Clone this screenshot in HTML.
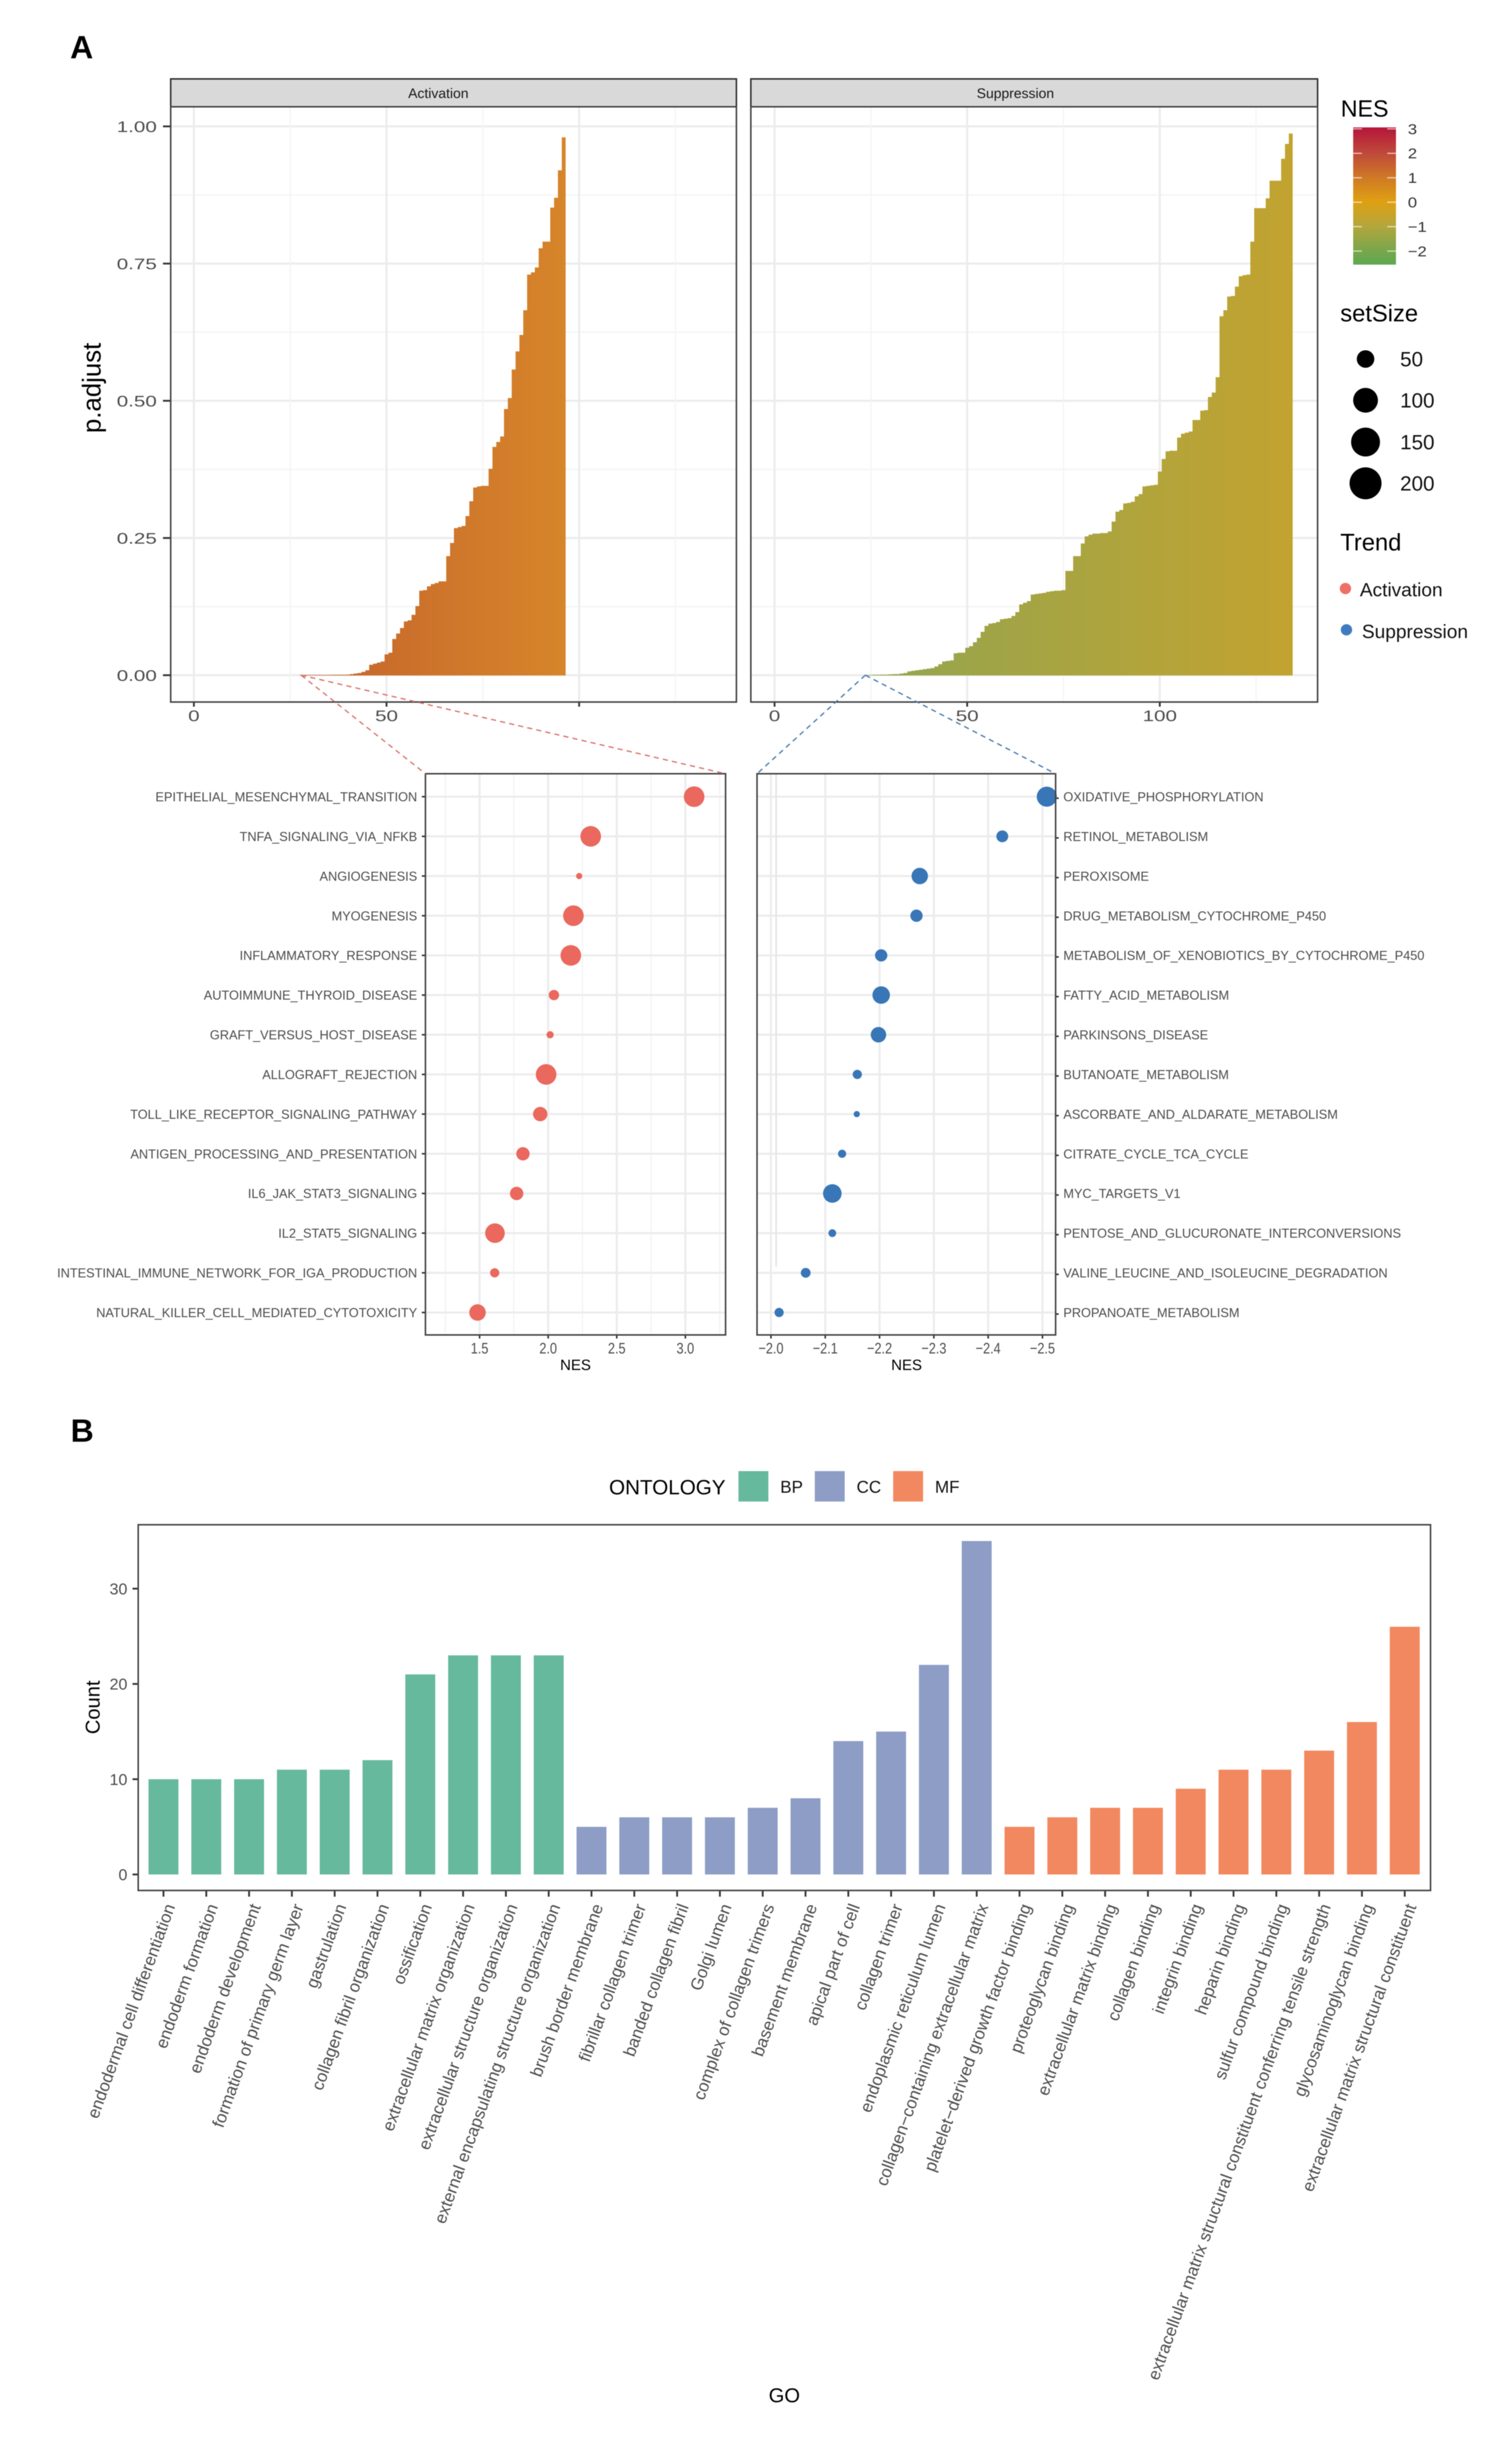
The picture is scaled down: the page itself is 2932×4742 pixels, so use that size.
<!DOCTYPE html>
<html lang="en">
<head>
<meta charset="utf-8">
<title>Enrichment figure</title>
<style>
html,body{margin:0;padding:0;background:#fff;}
svg{display:block;font-family:"Liberation Sans",sans-serif;filter:blur(0.7px);}
</style>
</head>
<body>
<svg id="fig" xmlns="http://www.w3.org/2000/svg" width="2932" height="4742" viewBox="0 0 2932 4742">
  <defs>
    <linearGradient id="nesGrad" x1="0" y1="0" x2="0" y2="1">
      <stop offset="0" stop-color="#b5153a"/>
      <stop offset="0.19" stop-color="#bf4a3a"/>
      <stop offset="0.37" stop-color="#cf7a24"/>
      <stop offset="0.54" stop-color="#dfa012"/>
      <stop offset="0.72" stop-color="#b3a63c"/>
      <stop offset="0.90" stop-color="#78a64c"/>
      <stop offset="1" stop-color="#5da84f"/>
    </linearGradient>
  </defs>
  <rect x="0" y="0" width="2932" height="4742" fill="#fff"/>
  <text x="136" y="113" font-size="62" font-weight="700" fill="#000">A</text>
  <text x="137" y="2795" font-size="62" font-weight="700" fill="#000">B</text>

  <g id="gActivation"></g>
  <g id="gSuppression"></g>

  <rect x="331" y="153" width="1097" height="54" fill="#d9d9d9" stroke="#333" stroke-width="3"/>
  <text x="850" y="190" font-size="27" text-anchor="middle" fill="#1a1a1a">Activation</text>
  <rect x="331" y="207" width="1097" height="1154" fill="none" stroke="#444" stroke-width="3"/>
  <rect x="1456" y="153" width="1099" height="54" fill="#d9d9d9" stroke="#333" stroke-width="3"/>
  <text x="1969" y="190" font-size="27" text-anchor="middle" fill="#1a1a1a">Suppression</text>
  <rect x="1456" y="207" width="1099" height="1154" fill="none" stroke="#444" stroke-width="3"/>
  <text transform="translate(195,752) rotate(-90)" font-size="50" text-anchor="middle" fill="#000">p.adjust</text>

  <g id="gDotA"></g>
  <g id="gDotS"></g>
  <rect x="825" y="1500" width="582" height="1088" fill="none" stroke="#444" stroke-width="3"/>
  <rect x="1468" y="1500" width="579" height="1088" fill="none" stroke="#444" stroke-width="3"/>
  <text x="1116" y="2656" font-size="29" text-anchor="middle" fill="#000">NES</text>
  <text x="1758" y="2656" font-size="29" text-anchor="middle" fill="#000">NES</text>

  <g fill="none" stroke-width="2.5" stroke-dasharray="10 8">
    <line x1="584" y1="1309" x2="825" y2="1500" stroke="#d9746c"/>
    <line x1="584" y1="1309" x2="1407" y2="1500" stroke="#d9746c"/>
    <line x1="1678" y1="1309" x2="1468" y2="1500" stroke="#4a7cae"/>
    <line x1="1678" y1="1309" x2="2047" y2="1500" stroke="#4a7cae"/>
  </g>

  <g>
    <text x="2600" y="226" font-size="45" fill="#000">NES</text>
    <rect x="2624" y="247" width="83" height="266" fill="url(#nesGrad)"/>
    <g id="gNesTicks"></g>
  </g>
  <g>
    <text x="2599" y="623" font-size="46" fill="#000">setSize</text>
    <circle cx="2648" cy="696" r="17" fill="#000"/>
    <circle cx="2648" cy="776" r="24" fill="#000"/>
    <circle cx="2648" cy="857" r="28" fill="#000"/>
    <circle cx="2648" cy="937" r="31" fill="#000"/>
    <text x="2715" y="710" font-size="40" fill="#111">50</text>
    <text x="2715" y="790" font-size="40" fill="#111">100</text>
    <text x="2715" y="871" font-size="40" fill="#111">150</text>
    <text x="2715" y="951" font-size="40" fill="#111">200</text>
  </g>
  <g>
    <text x="2599" y="1067" font-size="46" fill="#000">Trend</text>
    <circle cx="2609" cy="1141" r="11" fill="#ee6f66"/>
    <circle cx="2611" cy="1221" r="11" fill="#3f7cbf"/>
    <text x="2637" y="1156" font-size="37" fill="#111">Activation</text>
    <text x="2641" y="1237" font-size="37" fill="#111">Suppression</text>
  </g>

  <g>
    <text x="1181" y="2897" font-size="40" fill="#000">ONTOLOGY</text>
    <rect x="1432" y="2852" width="58" height="59" fill="#66b99d"/>
    <text x="1513" y="2894" font-size="33" fill="#111">BP</text>
    <rect x="1580" y="2852" width="58" height="59" fill="#8d9dc6"/>
    <text x="1661" y="2894" font-size="33" fill="#111">CC</text>
    <rect x="1732" y="2852" width="58" height="59" fill="#f2885f"/>
    <text x="1813" y="2894" font-size="33" fill="#111">MF</text>
  </g>
  <g id="gGo"></g>
  <rect x="268" y="2956" width="2506" height="709" fill="none" stroke="#444" stroke-width="3"/>
  <text transform="translate(193,3310) rotate(-90)" font-size="39" text-anchor="middle" fill="#000">Count</text>
  <text x="1521" y="4657" font-size="39" text-anchor="middle" fill="#000">GO</text>
</svg>

<script>
// ---- Panel A top: ranked p.adjust values (ascending, last value sits at the final rank) ----
const activationLastRank = 96;
const activationPadj = [
  0.0005,0.0005,0.0005,0.0005,0.0005,0.0005,0.0005,0.0005,0.0007,0.0007,0.0008,0.0008,
  0.001,0.002,0.003,0.004,0.006,0.009,0.019,0.021,0.023,0.025,0.038,0.041,
  0.066,0.076,0.086,0.098,0.10,0.11,0.126,0.154,0.155,0.162,0.166,0.168,
  0.171,0.171,0.217,0.241,0.268,0.27,0.272,0.29,0.317,0.342,0.344,0.345,
  0.345,0.376,0.416,0.425,0.435,0.485,0.505,0.557,0.59,0.62,0.665,0.73,
  0.734,0.743,0.778,0.79,0.79,0.852,0.87,0.92,0.98
];
const suppressionLastRank = 134;
const suppressionPadj = [
  0.0005,0.0005,0.0008,0.0008,0.001,0.001,0.0015,0.002,0.002,0.003,
  0.004,0.007,0.008,0.009,0.010,0.011,0.012,0.013,0.016,0.020,
  0.025,0.026,0.027,0.040,0.041,0.041,0.050,0.053,0.060,0.068,
  0.079,0.09,0.094,0.095,0.097,0.102,0.103,0.104,0.108,0.115,
  0.129,0.132,0.135,0.147,0.148,0.149,0.150,0.152,0.153,0.154,
  0.154,0.155,0.190,0.190,0.217,0.217,0.240,0.253,0.256,0.258,
  0.258,0.259,0.259,0.262,0.280,0.298,0.301,0.313,0.314,0.316,
  0.326,0.330,0.344,0.345,0.346,0.347,0.371,0.394,0.408,0.409,
  0.409,0.433,0.44,0.442,0.444,0.465,0.465,0.482,0.483,0.507,
  0.515,0.543,0.654,0.665,0.69,0.691,0.708,0.727,0.729,0.73,
  0.79,0.851,0.851,0.851,0.869,0.901,0.901,0.901,0.941,0.968,0.987
];
const padjTicks = [0, 0.25, 0.5, 0.75, 1];
const padjTickLabels = ['0.00','0.25','0.50','0.75','1.00'];
const rankTicks = [0, 50, 100];
const activationRankLabels = ['0','50',''];
const suppressionRankLabels = ['0','50','100'];

// ---- Panel A bottom: dot plots ----
const activationTerms = ['EPITHELIAL_MESENCHYMAL_TRANSITION','TNFA_SIGNALING_VIA_NFKB','ANGIOGENESIS','MYOGENESIS','INFLAMMATORY_RESPONSE','AUTOIMMUNE_THYROID_DISEASE','GRAFT_VERSUS_HOST_DISEASE','ALLOGRAFT_REJECTION','TOLL_LIKE_RECEPTOR_SIGNALING_PATHWAY','ANTIGEN_PROCESSING_AND_PRESENTATION','IL6_JAK_STAT3_SIGNALING','IL2_STAT5_SIGNALING','INTESTINAL_IMMUNE_NETWORK_FOR_IGA_PRODUCTION','NATURAL_KILLER_CELL_MEDIATED_CYTOTOXICITY'];
const activationNES = [3.064,2.31,2.226,2.184,2.165,2.042,2.014,1.985,1.942,1.816,1.77,1.612,1.61,1.485];
const activationSetSize = [190,190,17,190,190,48,23,190,93,80,80,172,38,122];
const activationNesTicks = ['1.5','2.0','2.5','3.0'];
const activationNesMinor = [1.25,1.75,2.25,2.75,3.25];
const suppressionTerms = ['OXIDATIVE_PHOSPHORYLATION','RETINOL_METABOLISM','PEROXISOME','DRUG_METABOLISM_CYTOCHROME_P450','METABOLISM_OF_XENOBIOTICS_BY_CYTOCHROME_P450','FATTY_ACID_METABOLISM','PARKINSONS_DISEASE','BUTANOATE_METABOLISM','ASCORBATE_AND_ALDARATE_METABOLISM','CITRATE_CYCLE_TCA_CYCLE','MYC_TARGETS_V1','PENTOSE_AND_GLUCURONATE_INTERCONVERSIONS','VALINE_LEUCINE_AND_ISOLEUCINE_DEGRADATION','PROPANOATE_METABOLISM'];
const suppressionNES = [-2.508,-2.426,-2.274,-2.268,-2.203,-2.203,-2.198,-2.159,-2.158,-2.131,-2.113,-2.113,-2.064,-2.015];
const suppressionSetSize = [181,63,121,68,68,137,107,38,17,30,154,27,43,38];
const suppressionNesTicks = ['-2.0','-2.1','-2.2','-2.3','-2.4','-2.5'];

// ---- Panel B: GO bars ----
const goTerms = ['endodermal cell differentiation','endoderm formation','endoderm development','formation of primary germ layer','gastrulation','collagen fibril organization','ossification','extracellular matrix organization','extracellular structure organization','external encapsulating structure organization','brush border membrane','fibrillar collagen trimer','banded collagen fibril','Golgi lumen','complex of collagen trimers','basement membrane','apical part of cell','collagen trimer','endoplasmic reticulum lumen','collagen\u2212containing extracellular matrix','platelet\u2212derived growth factor binding','proteoglycan binding','extracellular matrix binding','collagen binding','integrin binding','heparin binding','sulfur compound binding','extracellular matrix structural constituent conferring tensile strength','glycosaminoglycan binding','extracellular matrix structural constituent'];
const goCounts = [10,10,10,11,11,12,21,23,23,23,5,6,6,6,7,8,14,15,22,35,5,6,7,7,9,11,11,13,16,26];
const goOntology = ['BP','BP','BP','BP','BP','BP','BP','BP','BP','BP','CC','CC','CC','CC','CC','CC','CC','CC','CC','CC','MF','MF','MF','MF','MF','MF','MF','MF','MF','MF'];
const countTicks = [0,10,20,30];

// ---- NES legend ----
const nesLegendTicks = [3,2,1,0,-1,-2];

// ---- Axis functions ----
const yPadj = p => 1309 - 1064 * p;
const xActRank = r => 376 + 7.47 * r;
const xSupRank = r => 1502 + 7.47 * r;
const yRow = i => 1544.5 + i * (1000 / 13);
const xActNes = v => 930 + 266 * (v - 1.5);
const xSupNes = v => 1495 + 1053 * (-2 - v);
const yCount = c => 3634 - 18.47 * c;
const xGo = i => 317 + 83 * i;
const yNesLegend = v => 392 - 47.4 * v;
const dotRadius = s => 1.45 * Math.sqrt(s);

const SVGNS = 'http://www.w3.org/2000/svg';
function make(tag, attrs, parent, text) {
  const node = document.createElementNS(SVGNS, tag);
  for (const k in attrs) node.setAttribute(k, attrs[k]);
  if (text !== undefined) node.textContent = text;
  parent.appendChild(node);
  return node;
}
function mix(a, b, t) {
  const c = a.map((v, i) => Math.round(v + (b[i] - v) * t));
  return 'rgb(' + c.join(',') + ')';
}
const GRID_MAJOR = '#ececec', GRID_MINOR = '#f4f4f4', AXIS = '#333', LABEL = '#4d4d4d';

function drawRankPanel(groupId, x0, x1, xScale, values, lastRank, colA, colB, rankLabels, showY) {
  const g = document.getElementById(groupId);
  padjTicks.forEach(t => {
    const el = make('line', {x1:x0, x2:x1, y1:yPadj(t), y2:yPadj(t), stroke:GRID_MAJOR, 'stroke-width':4}, g);
    
    
  });
  [0.125,0.375,0.625,0.875].forEach(t => {
    const el = make('line', {x1:x0, x2:x1, y1:yPadj(t), y2:yPadj(t), stroke:GRID_MINOR, 'stroke-width':2.5}, g);
    
    
  });
  rankTicks.forEach(t => {
    const el = make('line', {x1:xScale(t), x2:xScale(t), y1:207, y2:1361, stroke:GRID_MAJOR, 'stroke-width':4}, g);
    
    
  });
  [25,75,125].forEach(t => {
    const el = make('line', {x1:xScale(t), x2:xScale(t), y1:207, y2:1361, stroke:GRID_MINOR, 'stroke-width':2.5}, g);
    
    
  });
  const first = lastRank - values.length + 1;
  values.forEach((p, i) => {
    const rank = first + i;
    const t = i / (values.length - 1);
    const left = xScale(rank - 0.5);
    const w = xScale(rank + 0.5) - left + (i < values.length - 1 ? 0.6 : 0);
    const bar = make('rect', {x:left, y:yPadj(p), width:w, height:yPadj(0) - yPadj(p) + 0.5, fill:mix(colA, colB, t)}, g);
    
    
  });
  rankTicks.forEach((t, i) => {
    const tick = make('line', {x1:xScale(t), x2:xScale(t), y1:1361, y2:1370, stroke:AXIS, 'stroke-width':3.5}, g);
    
    
    if (rankLabels[i]) {
      const lab = make('text', {transform:'translate(' + xScale(t) + ',1398) scale(1.33,1)', 'font-size':30, 'text-anchor':'middle', fill:LABEL}, g, rankLabels[i]);
      
      
    }
  });
  if (showY) {
    padjTicks.forEach((t, i) => {
      const tick = make('line', {x1:316, x2:331, y1:yPadj(t), y2:yPadj(t), stroke:AXIS, 'stroke-width':3.5}, g);
      
      
      const lab = make('text', {transform:'translate(304,' + (yPadj(t) + 11) + ') scale(1.33,1)', 'font-size':30, 'text-anchor':'end', fill:LABEL}, g, padjTickLabels[i]);
      
      
    });
  }
}
drawRankPanel('gActivation', 331, 1428, xActRank, activationPadj, activationLastRank, [196,98,44], [214,133,42], activationRankLabels, true);
drawRankPanel('gSuppression', 1456, 2555, xSupRank, suppressionPadj, suppressionLastRank, [146,165,80], [194,163,48], suppressionRankLabels, false);

function drawDotPanel(groupId, x0, x1, xScale, terms, nes, sizes, tickLabels, minors, color, labelsRight) {
  const g = document.getElementById(groupId);
  minors.forEach(v => {
    const el = make('line', {x1:xScale(v), x2:xScale(v), y1:1500, y2:2588, stroke:GRID_MINOR, 'stroke-width':2.5}, g);
    
    
  });
  tickLabels.forEach(t => {
    const v = parseFloat(t);
    const el = make('line', {x1:xScale(v), x2:xScale(v), y1:1500, y2:2588, stroke:GRID_MAJOR, 'stroke-width':4}, g);
    
    
    const tick = make('line', {x1:xScale(v), x2:xScale(v), y1:2588, y2:2595, stroke:AXIS, 'stroke-width':3}, g);
    
    
    const lab = make('text', {transform:'translate(' + xScale(v) + ',2624) scale(0.82,1)', 'font-size':30, 'text-anchor':'middle', fill:LABEL}, g, t.replace('-', '\u2212'));
    
    
  });
  terms.forEach((term, i) => {
    const y = yRow(i);
    const rowLine = make('line', {x1:x0, x2:x1, y1:y, y2:y, stroke:GRID_MAJOR, 'stroke-width':4}, g);
    
    
  });
  terms.forEach((term, i) => {
    const y = yRow(i);
    const tick = make('line', {x1:labelsRight ? x1 : x0 - 7, x2:labelsRight ? x1 + 6 : x0, y1:y + (labelsRight ? 3 : 0), y2:y + (labelsRight ? 3 : 0), stroke:AXIS, 'stroke-width':3}, g);
    
    
    const lab = make('text', {x:labelsRight ? x1 + 15 : x0 - 16, y:y + 9, 'font-size':24.7, 'text-anchor':labelsRight ? 'start' : 'end', fill:LABEL}, g, term);
    
    
    const dot = make('circle', {cx:xScale(nes[i]), cy:y, r:dotRadius(sizes[i]), fill:color}, g);
    
    
  });
}
drawDotPanel('gDotA', 825, 1407, xActNes, activationTerms, activationNES, activationSetSize, activationNesTicks, activationNesMinor, '#ea685d', false);
drawDotPanel('gDotS', 1468, 2047, xSupNes, suppressionTerms, suppressionNES, suppressionSetSize, suppressionNesTicks, [], '#3876b8', true);
(function () {
  const g = document.getElementById('gDotS');
  const art = make('line', {x1:1505, x2:1505, y1:1500, y2:2456, stroke:'#e4e4e4', 'stroke-width':3}, g);
  
  
})();

(function () {
  const g = document.getElementById('gNesTicks');
  nesLegendTicks.forEach(v => {
    const y = yNesLegend(v);
    const a = make('line', {x1:2624, x2:2641, y1:y, y2:y, stroke:'#fff', 'stroke-opacity':0.6, 'stroke-width':2.5}, g);
    
    
    const b = make('line', {x1:2690, x2:2707, y1:y, y2:y, stroke:'#fff', 'stroke-opacity':0.6, 'stroke-width':2.5}, g);
    
    
    const lab = make('text', {transform:'translate(2730,' + (y + 10) + ') scale(1.15,1)', 'font-size':28, fill:'#333'}, g, String(v).replace('-', '\u2212'));
    
    
  });
})();

(function () {
  const g = document.getElementById('gGo');
  const colors = {BP:'#66b99d', CC:'#8d9dc6', MF:'#f2885f'};
  goCounts.forEach((c, i) => {
    const bw = 58;
    const bar = make('rect', {x:xGo(i) - bw / 2, y:yCount(c), width:bw, height:yCount(0) - yCount(c), fill:colors[goOntology[i]]}, g);
    
    
    const tick = make('line', {x1:xGo(i), x2:xGo(i), y1:3665, y2:3677, stroke:AXIS, 'stroke-width':3.5}, g);
    
    
    const lab = make('text', {transform:'translate(' + (xGo(i) + 23) + ',3696) rotate(-70)', 'font-size':33, 'text-anchor':'end', fill:LABEL}, g, goTerms[i]);
    
    
  });
  countTicks.forEach(c => {
    const tick = make('line', {x1:257, x2:268, y1:yCount(c), y2:yCount(c), stroke:AXIS, 'stroke-width':3.5}, g);
    
    
    const lab = make('text', {x:247, y:yCount(c) + 11, 'font-size':31, 'text-anchor':'end', fill:LABEL}, g, String(c));
    
    
  });
})();
</script>
</body>
</html>
